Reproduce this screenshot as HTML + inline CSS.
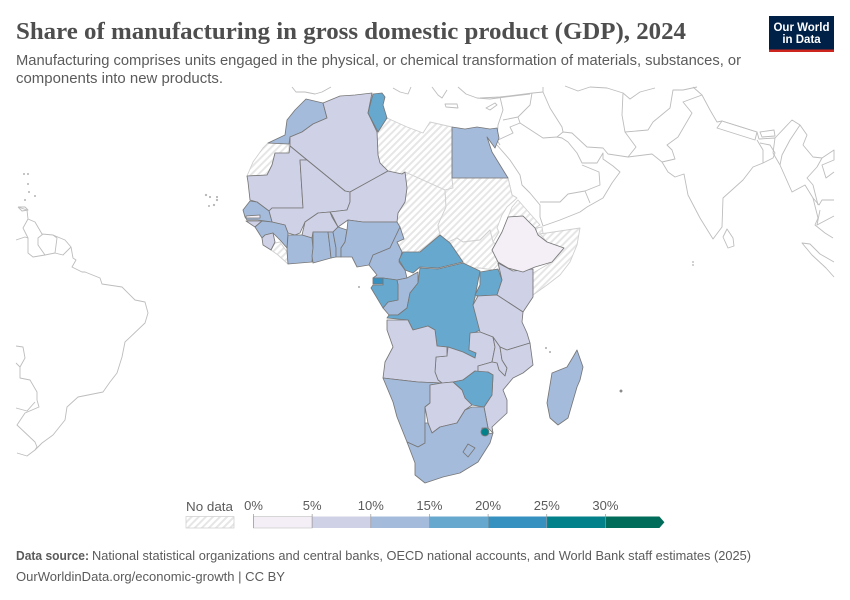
<!DOCTYPE html>
<html lang="en">
<head>
<meta charset="utf-8">
<title>Share of manufacturing in gross domestic product (GDP), 2024</title>
<style>
html,body{margin:0;padding:0;background:#fff}
svg{display:block}
text{font-family:"Liberation Sans",sans-serif}
.world{fill:none;stroke:#bdbdbd;stroke-width:.9;stroke-linejoin:round}
.isle{fill:#ddd;stroke:#999;stroke-width:.5}
.c{stroke:#777;stroke-width:.85;stroke-linejoin:round}
.nd{fill:url(#hatch);stroke:#d0d0d0;stroke-width:.9;stroke-linejoin:round}
</style>
</head>
<body>
<svg id="chart" xmlns="http://www.w3.org/2000/svg" width="850" height="600" viewBox="0 0 850 600">
<defs>
<pattern id="hatch" patternUnits="userSpaceOnUse" width="5" height="5" patternTransform="rotate(-45)">
<rect width="5" height="5" fill="#fff"/>
<rect width="5" height="2" fill="#e6e6e6"/>
</pattern>
</defs>
<rect width="850" height="600" fill="#fff"/>

<text x="16" y="39" font-size="24.5" font-weight="700" fill="#4e4e4e" textLength="670" lengthAdjust="spacingAndGlyphs" style="font-family:'Liberation Serif',serif">Share of manufacturing in gross domestic product (GDP), 2024</text>
<text x="16" y="65" font-size="14.5" fill="#5b5b5b" textLength="725" lengthAdjust="spacingAndGlyphs">Manufacturing comprises units engaged in the physical, or chemical transformation of materials, substances, or</text>
<text x="16" y="83" font-size="14.5" fill="#5b5b5b" textLength="207" lengthAdjust="spacingAndGlyphs">components into new products.</text>

<g>
<rect x="769" y="16" width="65" height="36" fill="#002147"/>
<rect x="769" y="49.5" width="65" height="2.5" fill="#ce261e"/>
<text x="801.5" y="31" font-size="11.5" font-weight="700" fill="#fff" text-anchor="middle">Our World</text>
<text x="801.5" y="43" font-size="11.5" font-weight="700" fill="#fff" text-anchor="middle">in Data</text>
</g>

<g id="map">
<g>
<polyline class="world" points="18,207 27,210 28,219 35,222 42,234 53,235 65,240 71,247 73,258 76,260 72,267 82,272 85,272 100,278 102,284 122,287 135,300 145,302 148,313 145,323 125,342 122,357 117,373 110,382 103,392 78,397 67,407 65,420 53,435 42,443 35,450 27,456 17,453"/>
<polyline class="world" points="28,219 23,228 28,238 28,253 33,257 45,255 38,245 38,238 43,234"/>
<polyline class="world" points="45,255 55,253 57,238 53,235"/>
<polyline class="world" points="55,253 63,255 71,247"/>
<polyline class="world" points="16,240 25,237 28,238"/>
<polyline class="world" points="16,346 23,347 25,358 20,367 20,378 30,380 37,392 37,400 39,407 25,413 17,425 35,442 37,447 35,450"/>
<polyline class="world" points="16,408 27,411 35,402"/>
<polyline class="world" points="16,363 20,367"/>
<polyline class="world" points="18,207 25,207 28,210 22,211 18,207"/>

<polyline class="world" points="497,145 510,160 520,175 522,185 530,193 540,205 540,217 543,226 560,220 580,212 587,207 603,198 612,183 620,172 613,166 603,159 603,153 597,163 582,163 579,157 577,153 568,142 562,138 557,137 543,138 520,123 510,127 513,133 498,140"/>
<polyline class="world" points="540,202 560,202 568,194 585,191 600,185 599,172 582,165"/>
<polyline class="world" points="585,191 590,203"/>
<polyline class="world" points="557,137 563,132 572,133 587,147 603,148 608,154 628,157 636,147 625,132 622,115 623,93 607,88 590,87"/>
<polyline class="world" points="563,132 562,127 550,108 543,92 543,87"/>
<polyline class="world" points="503,120 518,117 530,105 532,93"/>
<polyline class="world" points="518,117 520,123"/>
<polyline class="world" points="480,98 500,97 533,93 543,92"/>
<polyline class="world" points="500,97 503,110 498,125 497,140 500,145"/>
<polyline class="world" points="628,157 652,154 662,162 675,159 672,150 667,145 678,137 692,113 683,102 702,95 693,87"/>
<polyline class="world" points="625,132 648,130 653,122 670,108 673,90 683,90 697,87"/>
<polyline class="world" points="623,93 630,99 640,92 655,88"/>
<polyline class="world" points="565,86 578,91 590,87"/>
<polyline class="world" points="662,162 668,172 675,177 684,174 688,195 700,218 713,239 722,227 723,198 743,180 753,167 763,163"/>
<polyline class="world" points="702,95 710,110 717,122 722,121 757,132 759,139 775,138 773,153 780,165"/>
<polygon class="world" points="722,121 757,132 755,140 717,128"/>
<polygon class="world" points="760,132 774,130 775,136 762,137"/>
<polyline class="world" points="757,140 763,150 763,163 773,158 775,153 770,145 760,143"/>
<polyline class="world" points="780,165 792,192 805,185 813,198 818,218 815,225 825,233 833,238"/>
<polyline class="world" points="775,138 792,120 800,125 807,135 803,145 813,157 822,158 817,167 807,178 813,185 818,205"/>
<polyline class="world" points="800,125 790,140 782,155 780,165"/>
<polyline class="world" points="822,158 834,150 834,160 822,165 826,178 834,172"/>
<polyline class="world" points="813,198 819,205 822,200 834,200"/>
<polyline class="world" points="820,210 817,225 834,216"/>
<polygon class="world" points="727,229 733,238 734,246 728,248 723,237"/>
<polyline class="world" points="834,262 820,254 810,244 802,243 812,255 826,268 834,277"/>
<polyline class="world" points="292,87 296,92 305,92 315,94 322,92 331,87"/>
<polyline class="world" points="393,88 400,92 408,94 411,87"/>
<polyline class="world" points="432,87 438,95 442,98 447,90"/>
<polygon class="world" points="445,104 457,104 458,108 446,107"/>
<polyline class="world" points="458,87 466,94 477,98 490,99 505,97 530,94"/>
<polygon class="world" points="486,108 495,103 497,105 490,110"/>
<polyline class="world" points="508,178 512,195 517,198"/>
</g>

<g>
<circle class="isle" cx="206" cy="195" r=".9"/>
<circle class="isle" cx="210" cy="197" r=".8"/>
<circle class="isle" cx="217" cy="197" r=".8"/>
<circle class="isle" cx="217" cy="200" r=".9"/>
<circle class="isle" cx="209" cy="206" r=".7"/>
<circle class="isle" cx="214" cy="205" r=".9"/>
<circle class="isle" cx="24" cy="174" r=".7"/>
<circle class="isle" cx="28" cy="174" r=".7"/>
<circle class="isle" cx="28" cy="184" r=".7"/>
<circle class="isle" cx="29" cy="192" r=".7"/>
<circle class="isle" cx="35" cy="196" r=".7"/>
<circle class="isle" cx="25" cy="200" r=".7"/>
<circle class="isle" cx="359" cy="287" r=".8"/>
<circle class="isle" cx="546" cy="348" r=".8"/>
<circle class="isle" cx="550" cy="352" r=".8"/>
<circle class="isle" cx="621" cy="391" r="1.3" style="fill:#888"/>
<circle class="isle" cx="693" cy="262" r=".6"/>
<circle class="isle" cx="693" cy="265" r=".6"/>
</g>

<g>
<polygon class="nd" points="387,118 407,127 423,133 430,122 452,127 452,179 453,188 445,190 405,172 402,174 388,171 380,163 378,155 377,132"/>
<polygon class="nd" points="268,143 289,144 289,153 275,153 272,165 267,175 247,176 253,162 263,148"/>
<polygon class="nd" points="405,172 445,190 446,207 438,225 440,235 418,252 403,252 400,255 397,242 404,239 397,222 398,213 405,202 407,188"/>
<polygon class="nd" points="445,190 453,188 452,178 508,178 512,195 517,198 507,207 502,215 497,228 499,232 493,242 490,230 480,240 463,242 457,238 448,242 440,235 438,225 446,207"/>
<polygon class="nd" points="448,242 457,238 463,242 480,240 490,230 493,242 497,245 492,250 502,260 493,270 480,268 470,268 463,262 450,243"/>
<polygon class="nd" points="518,200 540,225 535,228 523,216 508,217 512,207"/>
<polygon class="nd" points="536,228 542,227 543,233 537,235"/>
<polygon class="nd" points="540,234 580,228 577,245 570,262 560,275 547,285 533,295 533,273 552,262 564,248 547,242"/>
<polygon class="nd" points="275,243 280,242 287,252 288,264 278,255 271,250"/>
<polygon class="nd" points="475,297 480,295 480,302 474,303"/>
<polygon class="nd" points="474,303 480,302 480,309 476,312"/>
</g>

<g>
<polygon class="c" id="morocco" points="268,143 285,135 287,120 295,110 306,99 323,103 327,118 313,124 302,132 290,137 289,144"/>
<polygon class="c" id="algeria" points="323,103 340,96 355,95 372,93 368,113 377,132 378,155 380,163 388,171 350,192 345,191 290,146 290,137 302,132 313,124 327,118"/>
<polygon class="c" id="tunisia" points="373,94 382,93 385,97 383,105 387,118 378,132 368,113"/>
<polygon class="c" id="egypt" points="452,127 465,129 477,127 490,129 497,128 499,138 495,148 487,137 492,152 508,178 452,178"/>
<polygon class="c" id="mauritania" points="247,176 267,175 272,165 275,153 289,153 290,146 307,160 300,160 303,208 272,208 269,211 257,202 250,200 248,182"/>
<polygon class="c" id="mali" points="307,160 345,191 350,192 350,202 347,210 330,212 318,213 305,222 300,233 295,235 288,233 285,225 272,222 269,211 272,208 303,208 300,160"/>
<polygon class="c" id="niger" points="388,171 402,174 405,172 407,188 405,202 398,213 397,222 380,222 363,222 348,220 338,227 332,215 330,212 347,210 350,202 350,192"/>
<polygon class="c" id="burkina-faso" points="330,212 332,217 338,227 333,232 313,232 312,238 302,235 305,222 318,213"/>
<polygon class="c" id="senegal" points="243,210 250,201 257,202 269,211 272,222 258,220 247,220 245,217"/>
<polygon class="c" id="gambia" points="246,216 260,215 260,218 246,218"/>
<polygon class="c" id="guinea-bissau" points="246,221 262,221 255,227"/>
<polygon class="c" id="guinea" points="255,227 262,221 272,222 285,225 288,233 287,248 280,240 273,233 265,235 262,238"/>
<polygon class="c" id="sierra-leone" points="265,235 273,233 275,242 271,250 263,245 262,238"/>
<polygon class="c" id="ivory-coast" points="288,235 302,235 312,238 313,248 312,262 288,264 287,250"/>
<polygon class="c" id="ghana" points="313,232 328,232 330,248 331,258 313,263 312,256 313,248"/>
<polygon class="c" id="togo" points="328,232 333,232 336,248 336,257 331,258 330,248"/>
<polygon class="c" id="benin" points="333,232 338,227 347,230 345,242 341,248 341,257 336,257 336,248"/>
<polygon class="c" id="nigeria" points="348,220 363,222 380,222 397,222 400,227 390,248 373,255 369,265 357,267 352,257 341,257 341,248 345,242 347,230"/>
<polygon class="c" id="cameroon" points="400,227 404,239 397,242 402,252 399,262 405,270 407,278 397,280 383,278 373,278 377,275 369,265 373,255 390,248"/>
<polygon class="c" id="central-african-republic" points="440,235 450,243 463,262 438,268 420,267 413,273 405,270 399,260 403,252 420,252"/>
<polygon class="c" id="congo" points="397,280 407,278 418,272 418,283 410,293 407,308 398,315 389,315 383,308 388,302 398,300 398,285"/>
<polygon class="c" id="gabon" points="371,288 373,285 383,285 383,278 397,280 398,285 398,300 388,302 383,308"/>
<polygon class="c" id="equatorial-guinea" points="373,278 383,278 383,284 373,284"/>
<polygon class="c" id="dr-congo" points="420,268 438,269 463,263 480,271 475,297 473,305 480,330 470,335 469,350 476,353 475,358 463,352 448,347 437,346 435,330 428,326 413,330 408,320 387,318 389,315 398,315 407,308 410,293 418,283"/>
<polygon class="c" id="uganda" points="480,272 498,269 502,280 497,295 478,296 475,295 480,285"/>
<polygon class="c" id="kenya" points="498,263 513,271 533,269 533,297 523,312 497,295 502,280"/>
<polygon class="c" id="ethiopia" points="508,217 523,216 535,228 538,235 547,242 564,248 552,262 535,267 523,272 508,268 498,262 492,250 502,232"/>
<polygon class="c" id="tanzania" points="478,296 497,295 523,312 522,322 527,333 530,343 507,350 500,347 493,337 480,332 473,305"/>
<polygon class="c" id="zambia" points="470,333 480,332 493,337 495,347 492,362 478,366 478,372 475,371 463,380 453,382 442,383 438,380 435,372 436,357 447,356 448,347 463,352 475,358 476,353 469,350"/>
<polygon class="c" id="malawi" points="493,337 500,347 502,360 507,368 505,376 499,370 497,363 492,362 495,347"/>
<polygon class="c" id="mozambique" points="507,350 530,343 533,365 523,373 513,378 503,390 507,400 507,413 492,427 493,433 488,428 484,407 492,395 493,375 488,372 478,372 478,366 492,362 497,363 499,370 505,376 507,368 502,360 500,347"/>
<polygon class="c" id="zimbabwe" points="453,382 463,380 475,371 488,372 493,375 492,395 484,407 472,405 465,398 462,390"/>
<polygon class="c" id="angola" points="387,320 408,320 413,330 428,326 435,330 437,346 447,347 447,356 436,357 435,372 438,380 442,383 418,382 383,378 385,362 393,347 387,330"/>
<polygon class="c" id="namibia" points="383,378 418,382 442,383 430,385 430,403 425,407 425,443 418,447 407,442 397,417 393,402"/>
<polygon class="c" id="botswana" points="430,385 442,383 453,382 462,390 465,398 472,405 465,410 457,423 440,427 432,433 428,423 425,407 430,403"/>
<polygon class="c" id="south-africa" points="407,442 418,447 425,443 425,423 428,423 432,433 440,427 457,423 465,410 472,407 484,407 488,428 482,428 482,435 493,433 490,443 478,462 460,473 443,477 425,483 415,475 415,463"/>
<polygon class="c" id="lesotho" points="468,444 475,448 468,457 463,452"/>
<circle class="c" id="eswatini" cx="485" cy="432" r="4"/>
<polygon class="c" id="madagascar" points="577,350 583,367 580,380 577,387 568,418 558,425 550,418 547,403 552,373 567,367 573,357"/>
</g>
</g>

<g id="legend">
<text x="186" y="511" font-size="13" fill="#5b5b5b" textLength="47" lengthAdjust="spacingAndGlyphs">No data</text>
<rect x="186" y="516.5" width="48" height="11.5" fill="url(#hatch)" stroke="#ccc" stroke-width=".7"/>
</g>

<text x="16" y="560" font-size="13" font-weight="700" fill="#5b5b5b" textLength="73" lengthAdjust="spacingAndGlyphs">Data source:</text>
<text x="92" y="560" font-size="13" fill="#5b5b5b" textLength="659" lengthAdjust="spacingAndGlyphs">National statistical organizations and central banks, OECD national accounts, and World Bank staff estimates (2025)</text>
<text x="16" y="581" font-size="13" fill="#5b5b5b" textLength="269" lengthAdjust="spacingAndGlyphs">OurWorldinData.org/economic-growth | CC BY</text>
</svg>

<script>
// Share of manufacturing in GDP (%)
const countryIds = ["morocco","algeria","tunisia","egypt","mauritania","mali","niger","burkina-faso","senegal","gambia","guinea-bissau","guinea","sierra-leone","ivory-coast","ghana","togo","benin","nigeria","cameroon","central-african-republic","congo","gabon","equatorial-guinea","dr-congo","uganda","kenya","ethiopia","tanzania","zambia","malawi","mozambique","zimbabwe","angola","namibia","botswana","south-africa","lesotho","eswatini","madagascar"];
const manufacturingShare = [14,8,16,14,6,7,7,8,13,4,8,12,7,12,12,13,11,14,14,18,13,17,22,17,16,7,4,8,8,9,8,17,8,12,6,13,13,27,13];
const binTicks = [0,5,10,15,20,25,30];
const binColors = ["#f4eff7","#cfd1e6","#a5bbdb","#67a8cf","#3690c0","#02818a","#016c59"];

const NS = "http://www.w3.org/2000/svg";
const legendX = v => 253.5 + v * 11.73;
const binIndex = v => {
  let i = 0;
  binTicks.forEach((t, k) => { if (v >= t) i = k; });
  return i;
};

countryIds.forEach((id, i) => {
  const el = document.getElementById(id);
  if (el) el.setAttribute("fill", binColors[binIndex(manufacturingShare[i])]);
});

const legend = document.getElementById("legend");
const barTop = 516.5, barH = 11.5, overflowW = 54;
binTicks.forEach((t, i) => {
  const x0 = legendX(t);
  const x1 = i < binTicks.length - 1 ? legendX(binTicks[i + 1]) : x0 + overflowW;
  const seg = document.createElementNS(NS, "path");
  
  
  const d = i < binTicks.length - 1
    ? `M${x0} ${barTop}H${x1}V${barTop + barH}H${x0}Z`
    : `M${x0} ${barTop}H${x1}L${x1 + 5} ${barTop + barH / 2}L${x1} ${barTop + barH}H${x0}Z`;
  seg.setAttribute("d", d);
  seg.setAttribute("fill", binColors[i]);
  seg.setAttribute("stroke", i === 0 ? "#ccc" : "none");
  seg.setAttribute("stroke-width", ".7");
  legend.appendChild(seg);
});
binTicks.forEach((t) => {
  const x = legendX(t);
  const tick = document.createElementNS(NS, "line");
  
  
  tick.setAttribute("x1", x);
  tick.setAttribute("x2", x);
  tick.setAttribute("y1", 514);
  tick.setAttribute("y2", barTop + barH);
  tick.setAttribute("stroke", "#999");
  tick.setAttribute("stroke-width", ".7");
  legend.appendChild(tick);
  const label = document.createElementNS(NS, "text");
  
  
  label.setAttribute("x", x);
  label.setAttribute("y", 510);
  label.setAttribute("font-size", "13");
  label.setAttribute("fill", "#5b5b5b");
  label.setAttribute("text-anchor", "middle");
  label.textContent = t + "%";
  legend.appendChild(label);
});
</script>
</body>
</html>
